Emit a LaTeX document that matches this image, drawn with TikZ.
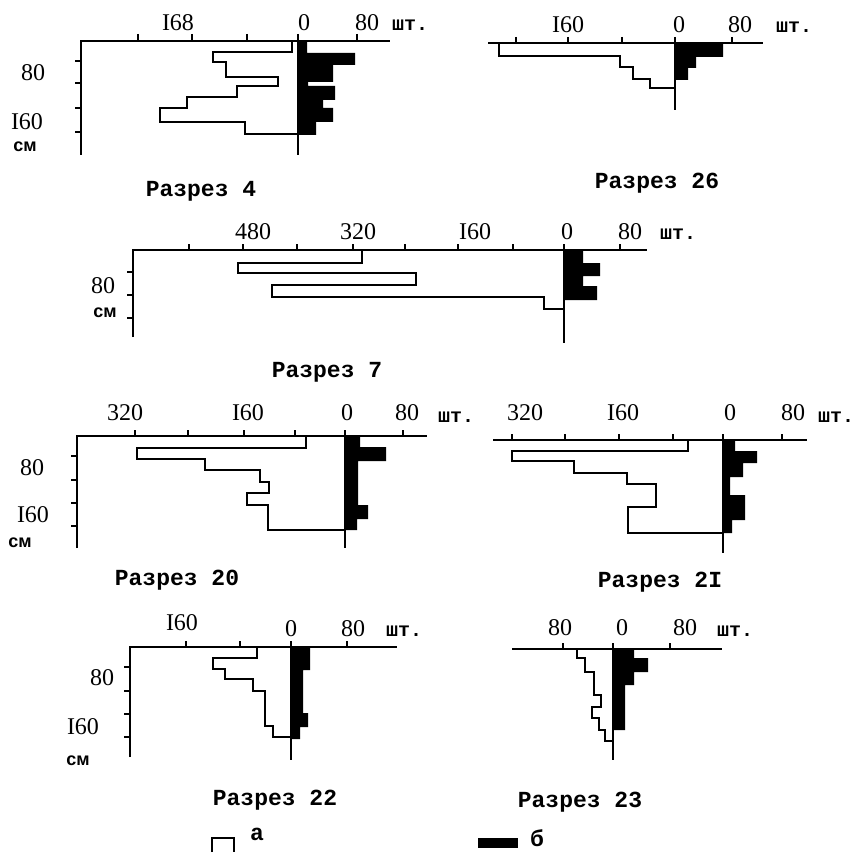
\documentclass[tikz,border=0pt]{standalone}
\usepackage{fontspec}
\setmainfont{Liberation Serif}
\newfontfamily\typefont{Liberation Mono}
\newfontfamily\unitfont{Liberation Sans}

\tikzset{
	axis/.style = {line width=1.6pt},
	hist/.style = {line width=1.5pt, line join=miter},
	bar/.style = {fill=black},
	num/.style = {inner sep=0pt, font=\fontsize{24}{24}\selectfont},
	unit/.style = {inner sep=0pt, font=\typefont\bfseries\fontsize{20}{20}\selectfont},
	depth/.style = {inner sep=0pt, font=\unitfont\bfseries\fontsize{18}{18}\selectfont},
	cut/.style = {inner sep=0pt, font=\typefont\bfseries\fontsize{23}{23}\selectfont},
}

\begin{document}
\begin{tikzpicture}[x=1pt, y=-1pt]
	\useasboundingbox (0,0) rectangle (862,853);

	% Razrez 4
	\draw[axis] (81,155) -- (81,41) -- (390,41);
	\draw[axis] (298,34) -- (298,155);
	\foreach \y in {61,83,108,132} \draw[axis] (75,\y) -- (81,\y);
	\foreach \x in {138,192,247,357} \draw[axis] (\x,34) -- (\x,41);
	\fill[bar] (298,42) -| (307,53) -| (355,65) -| (333,82) -| (308,86) -| (335,100) -| (323,108) -| (333,122) -| (316,135) -- (298,135) -- cycle;
	\draw[hist] (292,41) |- (213,52) |- (226,62) |- (278,77) |- (237,86) |- (187,97) |- (160,108) |- (245,122) |- (298,134);
	\node[num] (r4-160) at (178,23) {I68};
	\node[num] (r4-0) at (304,23) {0};
	\node[num] (r4-80) at (367,23) {80};
	\node[unit] (r4-pcs) at (410,25) {шт.};
	\node[num] (r4-d80) at (33,73) {80};
	\node[num] (r4-d160) at (27,122) {I60};
	\node[depth] (r4-cm) at (25,147) {см};
	\node[cut] (r4) at (201,191) {Разрез 4};

	% Razrez 26
	\draw[axis] (488,43) -- (763,43);
	\draw[axis] (675,37) -- (675,110);
	\foreach \x in {516,568,622,732} \draw[axis] (\x,37) -- (\x,43);
	\fill[bar] (675,43) -| (723,57) -| (696,68) -| (688,80) -- (675,80) -- cycle;
	\draw[hist] (499,43) |- (620,56) |- (633,67) |- (650,79) |- (675,88);
	\node[num] (r26-160) at (568,25) {I60};
	\node[num] (r26-0) at (679,25) {0};
	\node[num] (r26-80) at (740,25) {80};
	\node[unit] (r26-pcs) at (794,27) {шт.};
	\node[cut] (r26) at (657,183) {Разрез 26};

	% Razrez 7
	\draw[axis] (133,337) -- (133,250) -- (647,250);
	\draw[axis] (564,244) -- (564,343);
	\foreach \y in {272,295,318} \draw[axis] (127,\y) -- (133,\y);
	\foreach \x in {189,243,297,353,405,458,513,620} \draw[axis] (\x,244) -- (\x,250);
	\fill[bar] (564,250) -| (583,263) -| (600,276) -| (583,286) -| (597,300) -- (564,300) -- cycle;
	\draw[hist] (362,250) |- (238,263) |- (416,273) |- (272,285) |- (544,297) |- (564,309);
	\node[num] (r7-480) at (253,232) {480};
	\node[num] (r7-320) at (358,232) {320};
	\node[num] (r7-160) at (475,232) {I60};
	\node[num] (r7-0) at (567,232) {0};
	\node[num] (r7-80) at (630,232) {80};
	\node[unit] (r7-pcs) at (678,234) {шт.};
	\node[num] (r7-d80) at (103,286) {80};
	\node[depth] (r7-cm) at (105,313) {см};
	\node[cut] (r7) at (327,372) {Разрез 7};

	% Razrez 20
	\draw[axis] (77,548) -- (77,436) -- (427,436);
	\draw[axis] (345,430) -- (345,548);
	\foreach \y in {456,480,503,526} \draw[axis] (71,\y) -- (77,\y);
	\foreach \x in {135,188,244,295,403} \draw[axis] (\x,430) -- (\x,436);
	\fill[bar] (345,437) -| (360,447) -| (386,461) -| (358,505) -| (368,519) -| (357,530) -- (345,530) -- cycle;
	\draw[hist] (306,436) |- (137,448) |- (205,459) |- (260,470) |- (269,482) |- (247,493) |- (268,505) |- (345,530);
	\node[num] (r20-320) at (125,413) {320};
	\node[num] (r20-160) at (248,413) {I60};
	\node[num] (r20-0) at (347,413) {0};
	\node[num] (r20-80) at (407,413) {80};
	\node[unit] (r20-pcs) at (456,417) {шт.};
	\node[num] (r20-d80) at (32,468) {80};
	\node[num] (r20-d160) at (33,515) {I60};
	\node[depth] (r20-cm) at (20,543) {см};
	\node[cut] (r20) at (177,580) {Разрез 20};

	% Razrez 21
	\draw[axis] (493,440) -- (807,440);
	\draw[axis] (723,434) -- (723,553);
	\foreach \x in {512,565,619,673,782} \draw[axis] (\x,434) -- (\x,440);
	\fill[bar] (723,440) -| (735,451) -| (757,463) -| (743,477) -| (730,495) -| (745,520) -| (732,533) -- (723,533) -- cycle;
	\draw[hist] (688,440) |- (512,451) |- (574,461) |- (627,473) |- (656,484) |- (628,507) |- (723,533);
	\node[num] (r21-320) at (525,413) {320};
	\node[num] (r21-160) at (623,413) {I60};
	\node[num] (r21-0) at (730,413) {0};
	\node[num] (r21-80) at (793,413) {80};
	\node[unit] (r21-pcs) at (836,417) {шт.};
	\node[cut] (r21) at (660,582) {Разрез 2I};

	% Razrez 22
	\draw[axis] (130,757) -- (130,647) -- (397,647);
	\draw[axis] (291,641) -- (291,760);
	\foreach \y in {667,691,714,737} \draw[axis] (124,\y) -- (130,\y);
	\foreach \x in {186,240,347} \draw[axis] (\x,641) -- (\x,647);
	\fill[bar] (291,647) -| (310,670) -| (303,713) -| (308,727) -| (300,739) -- (291,739) -- cycle;
	\draw[hist] (257,647) |- (213,658) |- (225,669) |- (253,679) |- (265,691) |- (273,726) |- (291,737);
	\node[num] (r22-160) at (182,623) {I60};
	\node[num] (r22-0) at (291,629) {0};
	\node[num] (r22-80) at (353,629) {80};
	\node[unit] (r22-pcs) at (404,631) {шт.};
	\node[num] (r22-d80) at (102,678) {80};
	\node[num] (r22-d160) at (83,727) {I60};
	\node[depth] (r22-cm) at (78,761) {см};
	\node[cut] (r22) at (275,800) {Разрез 22};

	% Razrez 23
	\draw[axis] (512,649) -- (722,649);
	\draw[axis] (613,643) -- (613,760);
	\foreach \x in {563,670} \draw[axis] (\x,643) -- (\x,649);
	\fill[bar] (613,649) -| (634,658) -| (648,672) -| (634,685) -| (625,730) -- (613,730) -- cycle;
	\draw[hist] (577,649) |- (585,658) |- (594,672) |- (601,695) |- (592,707) |- (599,718) |- (605,730) |- (613,741);
	\node[num] (r23-l80) at (560,628) {80};
	\node[num] (r23-0) at (622,628) {0};
	\node[num] (r23-80) at (685,628) {80};
	\node[unit] (r23-pcs) at (735,631) {шт.};
	\node[cut] (r23) at (580,802) {Разрез 23};

	% legend
	\draw[hist] (212,852) |- (234,838) -- (234,852);
	\node[cut, anchor=west] (key-a) at (250,834) {а};
	\fill[bar] (478,838) rectangle (518,848);
	\node[cut, anchor=west] (key-b) at (530,838) {б};
\end{tikzpicture}
\end{document}
